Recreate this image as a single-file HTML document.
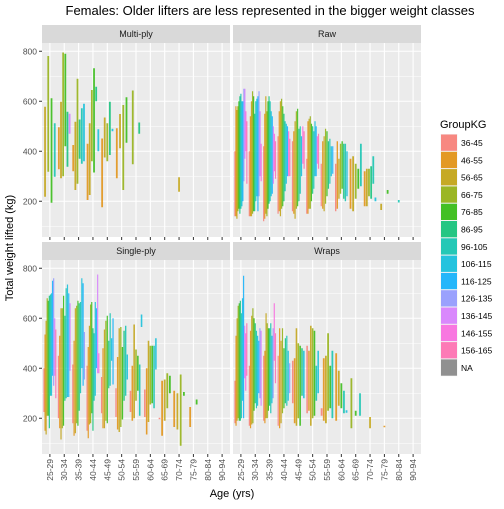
<!DOCTYPE html>
<html><head><meta charset="utf-8"><style>
body{margin:0;background:#fff;font-family:"Liberation Sans",sans-serif}
svg text{font-family:"Liberation Sans",sans-serif}
</style></head><body>
<svg id="c" width="504" height="504" viewBox="0 0 504 504"></svg>
<script>
const ages=["25-29","30-34","35-39","40-44","45-49","50-54","55-59","60-64","65-69","70-74","75-79","80-84","90-94"];
const groups=["36-45","46-55","56-65","66-75","76-85","86-95","96-105","106-115","116-125","126-135","136-145","146-155","156-165","NA"];
const colors=["#F8766D","#E18A00","#BE9C00","#8CAB00","#24B700","#00BE70","#00C1AB","#00BBDA","#00ACFC","#8B93FF","#D575FE","#F962DD","#FF65AC","#7F7F7F"];
const yTicks=[200,400,600,800];
const panelNames=["Multi-ply","Raw","Single-ply","Wraps"];
// each entry: [ageIndex, groupIndex, min, max]
const multiPly=[[0,2,218,578],[0,3,318,781],[0,4,194,612],[0,6,298,512],
[1,1,328,496],[1,2,292,598],[1,3,300,795],[1,4,420,790],[1,5,338,558],[1,10,470,550],
[2,1,320,425],[2,2,245,518],[2,3,270,690],[2,5,370,527],[2,6,350,572],[2,7,360,590],
[3,1,205,430],[3,2,225,512],[3,3,360,645],[3,4,315,732],[3,5,600,658],[3,7,400,488],
[4,1,176,451],[4,2,375,535],[4,3,360,512],[4,5,385,598],[4,7,480,490],
[5,1,292,492],[5,2,412,549],[5,3,245,585],[5,4,434,616],
[6,3,348,643],[6,5,470,515],[9,2,238,296]];
const raw=[[0,0,140,400],[0,1,140,580],[0,2,130,565],[0,3,160,580],[0,4,170,600],[0,5,150,620],[0,6,170,630],[0,7,180,600],[0,8,200,600],[0,9,280,650],[0,10,370,650],[0,11,400,560],[0,12,270,520],
[1,0,140,400],[1,1,140,540],[1,2,140,600],[1,3,150,640],[1,4,160,620],[1,5,160,550],[1,6,200,600],[1,7,220,610],[1,8,160,620],[1,9,220,640],[1,10,300,560],[1,11,280,430],
[2,0,120,420],[2,1,130,550],[2,2,150,620],[2,3,140,560],[2,4,170,600],[2,5,190,620],[2,6,200,600],[2,7,220,560],[2,8,230,540],[2,10,270,500],[2,11,320,470],[2,12,290,440],
[3,0,150,460],[3,1,160,560],[3,2,140,600],[3,3,170,610],[3,4,180,580],[3,5,200,550],[3,6,240,520],[3,7,270,510],[3,8,300,500],[3,11,300,480],[3,12,300,450],
[4,0,160,440],[4,1,150,480],[4,2,130,520],[4,3,170,560],[4,4,180,570],[4,5,200,490],[4,6,230,500],[4,7,300,460],[4,11,350,500],[4,12,330,480],
[5,0,150,370],[5,1,150,520],[5,2,170,530],[5,3,170,540],[5,4,200,510],[5,5,230,500],[5,6,250,480],[5,7,300,520],[5,8,300,500],[5,11,350,460],[5,12,330,470],
[6,0,180,350],[6,1,170,440],[6,2,160,460],[6,3,190,490],[6,4,220,480],[6,5,250,440],[6,6,270,450],[6,7,300,420],[6,8,310,420],
[7,0,160,350],[7,1,170,440],[7,2,210,370],[7,3,230,430],[7,4,250,440],[7,5,210,430],[7,6,200,430],[7,7,220,400],
[8,1,170,370],[8,2,160,380],[8,3,210,350],[8,4,250,330],[8,6,260,430],
[9,1,180,320],[9,2,180,330],[9,3,220,330],[9,5,210,340],[9,6,270,380],[9,7,200,215],
[10,2,165,190],[10,4,230,245],[11,6,195,205]];
const singlePly=[[0,0,225,400],[0,1,150,535],[0,2,135,590],[0,3,210,680],[0,4,210,670],[0,5,160,690],[0,6,290,695],[0,7,290,700],[0,8,370,750],[0,9,330,760],[0,10,370,600],[0,12,280,555],
[1,0,200,450],[1,1,160,530],[1,2,115,640],[1,3,160,640],[1,4,170,690],[1,5,270,610],[1,6,280,720],[1,7,285,735],[1,8,285,700],[1,10,390,660],
[2,0,180,415],[2,1,130,510],[2,2,140,640],[2,3,180,650],[2,4,170,670],[2,5,230,660],[2,6,300,665],[2,7,400,760],[2,8,330,740],[2,9,355,545],
[3,0,150,410],[3,1,120,485],[3,2,175,570],[3,3,180,655],[3,4,220,665],[3,5,150,560],[3,6,270,540],[3,7,290,665],[3,8,400,640],[3,10,380,775],[3,11,380,460],
[4,0,220,365],[4,1,160,480],[4,2,160,555],[4,3,190,590],[4,4,180,610],[4,5,320,510],[4,6,330,620],[4,7,430,520],[4,8,335,600],
[5,0,205,320],[5,1,155,445],[5,2,145,560],[5,3,165,565],[5,4,195,485],[5,5,270,550],[5,6,290,570],[5,7,355,455],
[6,0,225,310],[6,1,190,410],[6,2,200,575],[6,3,270,475],[6,4,310,450],[6,6,210,415],[6,7,565,615],
[7,0,205,315],[7,1,135,400],[7,2,185,510],[7,3,255,490],[7,4,260,490],[7,6,240,490],[7,7,395,520],
[8,0,198,202],[8,1,130,350],[8,2,190,355],[8,3,240,380],[8,4,300,370],
[9,1,165,310],[9,2,155,300],[9,3,90,375],[9,4,290,305],
[10,1,165,245],[10,4,255,275]];
const wraps=[[0,0,180,350],[0,1,170,530],[0,2,190,600],[0,3,200,650],[0,4,190,660],[0,5,190,670],[0,6,200,620],[0,7,270,680],[0,8,200,770],[0,10,360,570],[0,11,310,540],[0,12,370,580],
[1,0,170,410],[1,1,160,550],[1,2,175,610],[1,3,180,640],[1,4,230,600],[1,5,260,580],[1,6,240,550],[1,7,250,530],[1,8,300,510],[1,9,280,560],[1,10,250,550],
[2,0,190,450],[2,1,180,470],[2,2,200,620],[2,3,200,580],[2,4,230,560],[2,5,250,560],[2,6,220,580],[2,7,260,530],[2,9,280,560],[2,11,430,660],[2,12,340,540],
[3,0,170,450],[3,1,160,560],[3,2,180,510],[3,3,220,560],[3,4,240,480],[3,5,260,520],[3,6,250,530],[3,7,270,470],[3,9,300,420],
[4,0,260,430],[4,1,180,440],[4,2,170,560],[4,3,200,500],[4,4,170,490],[4,5,290,480],[4,7,280,470],
[5,0,220,490],[5,1,230,470],[5,2,170,570],[5,3,200,560],[5,4,210,550],[5,6,270,410],[5,7,300,470],
[6,0,210,240],[6,1,190,440],[6,2,180,450],[6,3,230,540],[6,4,240,410],[6,6,200,470],
[7,1,190,460],[7,2,250,390],[7,4,240,340],[7,6,220,310],[7,7,222,232],
[8,3,160,360],[8,4,210,230],[8,6,210,300],
[9,2,160,205],[10,1,165,170]];
const panelData=[multiPly,raw,singlePly,wraps];

const NS="http://www.w3.org/2000/svg";
const svg=document.getElementById('c');
function mk(tag,attrs,parent,text){const e=document.createElementNS(NS,tag);for(const k in attrs)e.setAttribute(k,attrs[k]);if(text!=null)e.textContent=text;(parent||svg).appendChild(e);return e;}
mk('rect',{x:0,y:0,width:504,height:504,fill:'#fff'});
const PW=188, PH=194, VMIN=57, VMAX=833;
const panels=[{x:42,y:43},{x:233,y:43},{x:42,y:260},{x:233,y:260}];
function yS(p,v){return p.y+PH-(v-VMIN)/(VMAX-VMIN)*PH;}
const step=PW/13.1, off=(PW-step*12)/2;
function xS(p,i){return p.x+off+i*step;}
panels.forEach((p,pi)=>{
  const g=mk('g',{});
  
  
  const strip=mk('rect',{x:p.x,y:p.y-18,width:PW,height:18,fill:'#d9d9d9'},g);
  
  const st=mk('text',{x:p.x+PW/2,y:p.y-6,'text-anchor':'middle','font-size':9,fill:'#1a1a1a'},g,panelNames[pi]);
  
  mk('rect',{x:p.x,y:p.y,width:PW,height:PH,fill:'#ebebeb'},g);
  [100,300,500,700].forEach(v=>mk('line',{x1:p.x,x2:p.x+PW,y1:yS(p,v),y2:yS(p,v),stroke:'#fff','stroke-width':0.5},g));
  yTicks.forEach(v=>mk('line',{x1:p.x,x2:p.x+PW,y1:yS(p,v),y2:yS(p,v),stroke:'#fff','stroke-width':1.1},g));
  ages.forEach((a,i)=>mk('line',{x1:xS(p,i),x2:xS(p,i),y1:p.y,y2:p.y+PH,stroke:'#fff','stroke-width':1.1},g));
  const data=panelData[pi];
  const counts={};data.forEach(d=>counts[d[0]]=(counts[d[0]]||0)+1);
  const slot={};
  data.forEach(d=>{
    const n=counts[d[0]];const k=slot[d[0]]=(slot[d[0]]||0);slot[d[0]]++;
    const dw=step*0.9/n;
    const cx=xS(p,d[0])-step*0.45+dw*(k+0.5);
    const w=Math.min(1.8,Math.max(1.2,dw*0.85));
    const y1=yS(p,d[3]),y2=yS(p,d[2]);
    const r=mk('rect',{x:cx-w/2,y:y1,width:w,height:Math.max(1.5,y2-y1),fill:colors[d[1]],opacity:0.8},g);
    
    
  });
  if(pi%2==0){
    yTicks.forEach(v=>{
      mk('line',{x1:p.x-3,x2:p.x,y1:yS(p,v),y2:yS(p,v),stroke:'#333','stroke-width':1},g);
      const t=mk('text',{x:p.x-5,y:yS(p,v)+3,'text-anchor':'end','font-size':8.5,fill:'#4d4d4d'},g,v);
      
    });
  }
  ages.forEach((a,i)=>mk('line',{x1:xS(p,i),x2:xS(p,i),y1:p.y+PH,y2:p.y+PH+3,stroke:'#333','stroke-width':1},g));
  if(pi>=2){
    ages.forEach((a,i)=>{
      const t=mk('text',{x:0,y:0,'text-anchor':'end','font-size':8.5,fill:'#4d4d4d',transform:`translate(${xS(p,i)+3},${p.y+PH+5}) rotate(-90)`},g,a);
      
    });
  }
});
let t=mk('text',{x:270,y:15,'text-anchor':'middle','font-size':13,fill:'#000'},null,'Females: Older lifters are less represented in the bigger weight classes');

t=mk('text',{x:232,y:497,'text-anchor':'middle','font-size':11,fill:'#000'},null,'Age (yrs)');

t=mk('text',{x:0,y:0,'text-anchor':'middle','font-size':11,fill:'#000',transform:'translate(13,248) rotate(-90)'},null,'Total weight lifted (kg)');

const lg=mk('g',{});

t=mk('text',{x:440,y:128,'font-size':11,fill:'#000'},lg,'GroupKG');

groups.forEach((gname,i)=>{
  const e=mk('g',{},lg);
  
  
  const y=134+i*17.3;
  mk('rect',{x:440.5,y:y,width:17,height:17.3,fill:'#f2f2f2'},e);
  mk('rect',{x:441,y:y+0.5,width:16,height:16.3,fill:colors[i],opacity:0.85},e);
  mk('text',{x:461,y:y+12,'font-size':8.5,fill:'#000'},e,gname);
});
</script>
</body></html>
